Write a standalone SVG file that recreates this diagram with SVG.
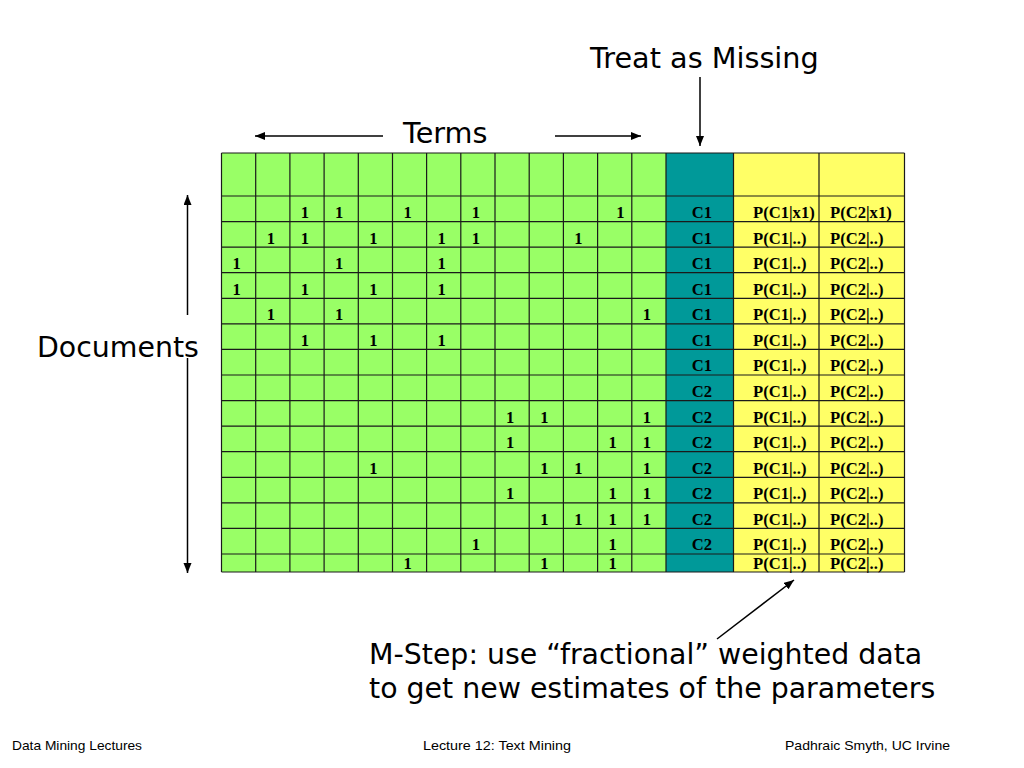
<svg xmlns="http://www.w3.org/2000/svg" width="1024" height="768" viewBox="0 0 1024 768">
<style>
.lbl{font-family:"DejaVu Sans",Verdana,sans-serif;font-size:28.7px;fill:#000}
.lbl2{font-size:28.4px}
.foot{font-family:"Liberation Sans",Arial,sans-serif;font-size:13px;fill:#000}
.cell{font-family:"Liberation Serif","Times New Roman",serif;font-size:16.6px;font-weight:bold;fill:#000}
.one{text-anchor:middle}
.grid{fill:none;stroke:#1a1a1a;stroke-width:1.2}
.arr{fill:none;stroke:#000;stroke-width:1.5;marker-end:url(#ah)}
</style>
<defs>
<marker id="ah" markerUnits="userSpaceOnUse" markerWidth="11" markerHeight="9" refX="10" refY="4" orient="auto">
<path d="M0,0 L10,4 L0,8 z" fill="#000"/>
</marker>
</defs>
<rect width="1024" height="768" fill="#fff"/>

<g id="table">
<rect x="221.5" y="153" width="444.5" height="419" fill="#99FF66"/>
<rect x="666" y="153" width="67.5" height="419" fill="#009999"/>
<rect x="733.5" y="153" width="171" height="419" fill="#FFFF66"/>
<path class="grid" d="M221.5,153H904.5 M221.5,196H904.5 M221.5,221.57H904.5 M221.5,247.14H904.5 M221.5,272.71H904.5 M221.5,298.29H904.5 M221.5,323.86H904.5 M221.5,349.43H904.5 M221.5,375H904.5 M221.5,400.57H904.5 M221.5,426.14H904.5 M221.5,451.71H904.5 M221.5,477.29H904.5 M221.5,502.86H904.5 M221.5,528.43H904.5 M221.5,554H904.5 M221.5,572H904.5
M221.5,153V572 M255.7,153V572 M289.9,153V572 M324.1,153V572 M358.3,153V572 M392.5,153V572 M426.6,153V572 M460.8,153V572 M495,153V572 M529.2,153V572 M563.4,153V572 M597.6,153V572 M631.8,153V572 M666,153V572 M733.5,153V572 M819,153V572 M904.5,153V572"/>
<g class="cell one">
<!-- row 1 -->
<text x="305" y="218">1</text><text x="339.2" y="218">1</text><text x="407.6" y="218">1</text><text x="475.9" y="218">1</text><text x="620.5" y="218">1</text>
<!-- row 2 -->
<text x="270.8" y="243.6">1</text><text x="305" y="243.6">1</text><text x="373.4" y="243.6">1</text><text x="441.7" y="243.6">1</text><text x="475.9" y="243.6">1</text><text x="578.5" y="243.6">1</text>
<!-- row 3 -->
<text x="236.6" y="269.1">1</text><text x="339.2" y="269.1">1</text><text x="441.7" y="269.1">1</text>
<!-- row 4 -->
<text x="236.6" y="294.7">1</text><text x="305" y="294.7">1</text><text x="373.4" y="294.7">1</text><text x="441.7" y="294.7">1</text>
<!-- row 5 -->
<text x="270.8" y="320.3">1</text><text x="339.2" y="320.3">1</text><text x="646.9" y="320.3">1</text>
<!-- row 6 -->
<text x="305" y="345.9">1</text><text x="373.4" y="345.9">1</text><text x="441.7" y="345.9">1</text>
<!-- row 9 -->
<text x="510.1" y="422.6">1</text><text x="544.3" y="422.6">1</text><text x="646.9" y="422.6">1</text>
<!-- row 10 -->
<text x="510.1" y="448.1">1</text><text x="612.7" y="448.1">1</text><text x="646.9" y="448.1">1</text>
<!-- row 11 -->
<text x="373.4" y="473.7">1</text><text x="544.3" y="473.7">1</text><text x="578.5" y="473.7">1</text><text x="646.9" y="473.7">1</text>
<!-- row 12 -->
<text x="510.1" y="499.3">1</text><text x="612.7" y="499.3">1</text><text x="646.9" y="499.3">1</text>
<!-- row 13 -->
<text x="544.3" y="524.9">1</text><text x="578.5" y="524.9">1</text><text x="612.7" y="524.9">1</text><text x="646.9" y="524.9">1</text>
<!-- row 14 -->
<text x="475.9" y="550.4">1</text><text x="612.7" y="550.4">1</text>
<!-- row 15 -->
<text x="407.6" y="569">1</text><text x="544.3" y="569">1</text><text x="612.7" y="569">1</text>
</g>
<g class="cell one">
<text x="702" y="218">C1</text><text x="702" y="243.6">C1</text><text x="702" y="269.1">C1</text><text x="702" y="294.7">C1</text><text x="702" y="320.3">C1</text><text x="702" y="345.9">C1</text><text x="702" y="371.4">C1</text>
<text x="702" y="397">C2</text><text x="702" y="422.6">C2</text><text x="702" y="448.1">C2</text><text x="702" y="473.7">C2</text><text x="702" y="499.3">C2</text><text x="702" y="524.9">C2</text><text x="702" y="550.4">C2</text>
</g>
<g class="cell">
<text x="753" y="218">P(C1|x1)</text><text x="830" y="218">P(C2|x1)</text>
<text x="753" y="243.6">P(C1|..)</text><text x="830" y="243.6">P(C2|..)</text>
<text x="753" y="269.1">P(C1|..)</text><text x="830" y="269.1">P(C2|..)</text>
<text x="753" y="294.7">P(C1|..)</text><text x="830" y="294.7">P(C2|..)</text>
<text x="753" y="320.3">P(C1|..)</text><text x="830" y="320.3">P(C2|..)</text>
<text x="753" y="345.9">P(C1|..)</text><text x="830" y="345.9">P(C2|..)</text>
<text x="753" y="371.4">P(C1|..)</text><text x="830" y="371.4">P(C2|..)</text>
<text x="753" y="397">P(C1|..)</text><text x="830" y="397">P(C2|..)</text>
<text x="753" y="422.6">P(C1|..)</text><text x="830" y="422.6">P(C2|..)</text>
<text x="753" y="448.1">P(C1|..)</text><text x="830" y="448.1">P(C2|..)</text>
<text x="753" y="473.7">P(C1|..)</text><text x="830" y="473.7">P(C2|..)</text>
<text x="753" y="499.3">P(C1|..)</text><text x="830" y="499.3">P(C2|..)</text>
<text x="753" y="524.9">P(C1|..)</text><text x="830" y="524.9">P(C2|..)</text>
<text x="753" y="550.4">P(C1|..)</text><text x="830" y="550.4">P(C2|..)</text>
<text x="753" y="569">P(C1|..)</text><text x="830" y="569">P(C2|..)</text>
</g>
</g>

<g id="label-missing"><text class="lbl" x="590" y="68">Treat as Missing</text></g>
<g id="label-terms"><text class="lbl" x="403" y="143">Terms</text></g>
<g id="label-documents"><text class="lbl lbl2" x="37" y="357">Documents</text></g>
<g id="label-mstep">
<text class="lbl lbl2" x="369" y="664">M-Step: use “fractional” weighted data</text>
<text class="lbl lbl2" x="369" y="698">to get new estimates of the parameters</text>
</g>

<g id="connectors">
<line class="arr" x1="700" y1="77" x2="700" y2="146"/>
<line class="arr" x1="383" y1="136" x2="255" y2="136"/>
<line class="arr" x1="555" y1="136" x2="641" y2="136"/>
<line class="arr" x1="187.5" y1="315" x2="187.5" y2="195"/>
<line class="arr" x1="187.5" y1="358" x2="187.5" y2="573"/>
<line class="arr" x1="717" y1="639" x2="794" y2="580"/>
</g>

<g id="footer">
<text class="foot" x="12" y="750" textLength="130" lengthAdjust="spacingAndGlyphs">Data Mining Lectures</text>
<text class="foot" x="423" y="750" textLength="148" lengthAdjust="spacingAndGlyphs">Lecture 12: Text Mining</text>
<text class="foot" x="785" y="750" textLength="165" lengthAdjust="spacingAndGlyphs">Padhraic Smyth, UC Irvine</text>
</g>
</svg>
